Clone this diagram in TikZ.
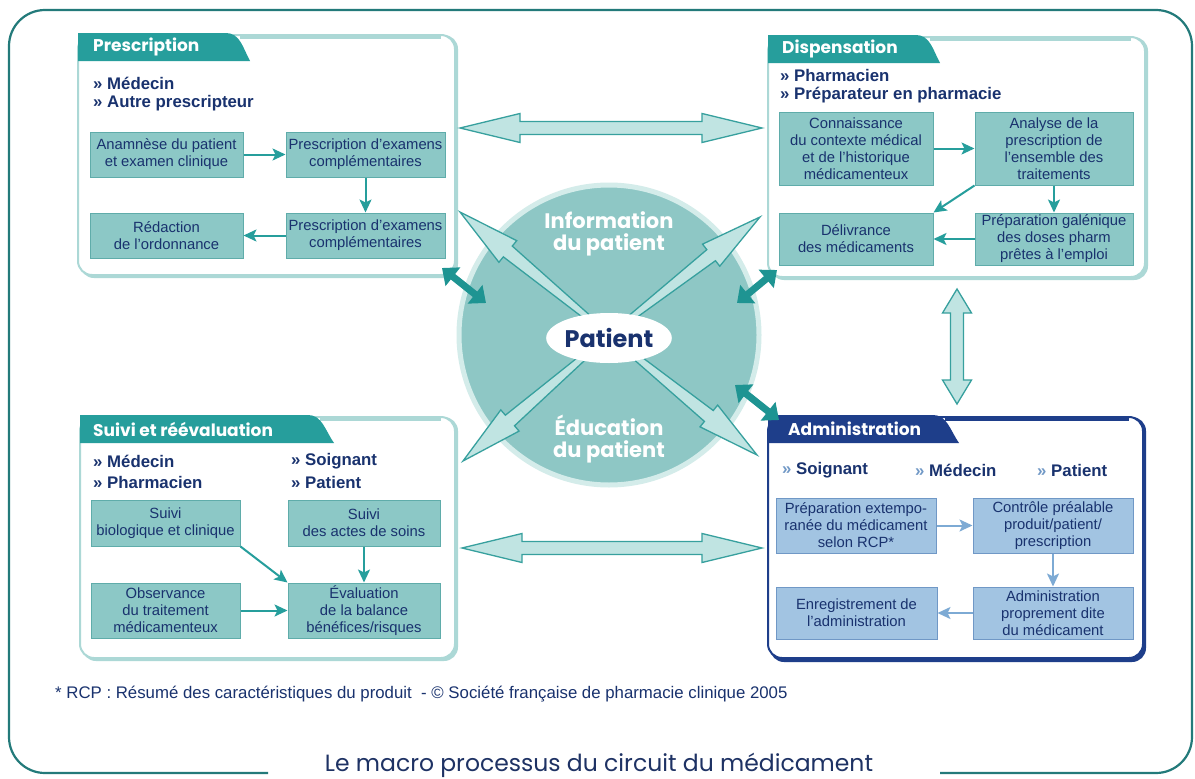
\documentclass[tikz,border=0pt]{standalone}
\usepackage{fontspec}
\setmainfont{Liberation Sans}
\newfontfamily\pop{Poppins}
\usetikzlibrary{calc,arrows.meta,shapes.geometric}

\definecolor{tealdark}{RGB}{38,158,156}
\definecolor{boxfill}{RGB}{140,200,198}
\definecolor{boxline}{RGB}{95,172,170}
\definecolor{panelline}{RGB}{172,216,214}
\definecolor{navy}{RGB}{25,50,110}
\definecolor{admnavy}{RGB}{30,62,138}
\definecolor{admfill}{RGB}{162,196,226}
\definecolor{admline}{RGB}{112,152,198}
\definecolor{admarrow}{RGB}{125,170,212}
\definecolor{circfill}{RGB}{142,199,197}
\definecolor{circring}{RGB}{212,236,234}
\definecolor{openfill}{RGB}{192,228,226}
\definecolor{openline}{RGB}{55,160,158}
\definecolor{bigarrcol}{RGB}{30,148,146}
\definecolor{frameline}{RGB}{35,122,122}
\definecolor{titlecol}{RGB}{30,50,100}

\tikzset{
 pbox/.style={draw=boxline, fill=boxfill, line width=1pt, text=navy, font=\fontsize{14.8}{17}\selectfont, align=center, inner sep=0pt},
 abox/.style={pbox, draw=admline, fill=admfill},
 panel/.style={draw=panelline, line width=2pt, fill=white, rounded corners=14pt, inner sep=0pt},
 apanel/.style={panel, draw=admnavy},
 tabtext/.style={font=\pop\bfseries\fontsize{17}{20}\selectfont, text=white, anchor=west, inner sep=0pt},
 role/.style={font=\bfseries\fontsize{16.8}{19}\selectfont, text=navy, anchor=west, inner sep=0pt},
 flow/.style={draw=tealdark, line width=2pt, -{Stealth[length=13pt,width=12pt,inset=3pt]}},
 aflow/.style={flow, draw=admarrow},
 openarr/.style={fill=openfill, draw=openline, line width=1.3pt, line join=miter},
 bigarr/.style={draw=bigarrcol, line width=7pt, {Triangle[length=14pt,width=23pt]}-{Triangle[length=14pt,width=23pt]}},
 centertext/.style={font=\pop\bfseries\fontsize{21}{22}\selectfont, text=white, align=center, inner sep=0pt},
}

\newcommand\halfarr[2]{%
 \filldraw[openarr] ($(#1)!2pt!90:(#2)$) -- ($(#2)!62pt!(#1)!7pt!-90:(#1)$) -- ($(#2)!62pt!(#1)!14pt!-90:(#1)$) -- (#2) -- ($(#2)!62pt!(#1)!14pt!90:(#1)$) -- ($(#2)!62pt!(#1)!7pt!90:(#1)$) -- ($(#1)!2pt!-90:(#2)$) -- cycle;}

\newcommand\dblarr[3]{%
 \filldraw[openarr] (#1) -- ($(#1)!#3!(#2)!14.5pt!90:(#2)$) -- ($(#1)!#3!(#2)!6.5pt!90:(#2)$) -- ($(#2)!#3!(#1)!6.5pt!-90:(#1)$) -- ($(#2)!#3!(#1)!14.5pt!-90:(#1)$) -- (#2) -- ($(#2)!#3!(#1)!14.5pt!90:(#1)$) -- ($(#2)!#3!(#1)!6.5pt!90:(#1)$) -- ($(#1)!#3!(#2)!6.5pt!-90:(#2)$) -- ($(#1)!#3!(#2)!14.5pt!-90:(#2)$) -- cycle;}

\begin{document}
\begin{tikzpicture}[x=1pt,y=-1pt]
\useasboundingbox (0,0) rectangle (1195,779);
\fill[white] (0,0) rectangle (1195,779);

% outer frame
\draw[frameline, line width=2.2pt, rounded corners=36pt] (268,773) -- (9,773) -- (9,10) -- (1192,10) -- (1192,773) -- (940,773);
\node[font=\pop\fontsize{23.5}{26}\selectfont, text=titlecol, inner sep=0pt] (title) at (599,765) {Le macro processus du circuit du médicament};

% ---------- Prescription panel
\fill[panelline, rounded corners=14pt] (80,35) rectangle (458,278);
\node[panel, minimum width=377pt, minimum height=240pt] (pr) at (266.5,155) {};
\draw[panelline, line width=4pt] (240,37) -- (441,37);
\fill[tealdark] (78,61) -- (78,33) -- (226,33) .. controls (240,33) and (243,48) .. (250,61) -- cycle;
\node[tabtext] (prt) at (93,47) {Prescription};
\node[role] (pr1) at (93,83) {» Médecin};
\node[role] (pr2) at (93,103) {» Autre prescripteur};
\node[pbox, minimum width=153pt, minimum height=45pt] (p1) at (166.5,154.5) {Anamnèse du patient\\et examen clinique};
\node[pbox, minimum width=159pt, minimum height=45pt] (p2) at (365.5,154.5) {Prescription d’examens\\complémentaires};
\node[pbox, minimum width=159pt, minimum height=45pt] (p3) at (365.5,235.5) {Prescription d’examens\\complémentaires};
\node[pbox, minimum width=153pt, minimum height=45pt] (p4) at (166.5,235.5) {Rédaction\\de l’ordonnance};
\draw[flow] (p1) -- (p2);
\draw[flow] (p2) -- (p3);
\draw[flow] (p3) -- (p4);

% ---------- Dispensation panel
\fill[panelline, rounded corners=14pt] (770,37) rectangle (1148,280);
\node[panel, minimum width=377pt, minimum height=240pt] (di) at (956.5,157) {};
\draw[panelline, line width=4pt] (930,39) -- (1131,39);
\fill[tealdark] (768,63) -- (768,35) -- (916,35) .. controls (930,35) and (933,50) .. (940,63) -- cycle;
\node[tabtext] (dit) at (782,49) {Dispensation};
\node[role] (di1) at (780,75) {» Pharmacien};
\node[role] (di2) at (780,95) {» Préparateur en pharmacie};
\node[pbox, minimum width=154pt, minimum height=73pt] (d1) at (856,148.5) {Connaissance\\du contexte médical\\et de l’historique\\médicamenteux};
\node[pbox, minimum width=158pt, minimum height=73pt] (d2) at (1054,148.5) {Analyse de la\\prescription de\\l’ensemble des\\traitements};
\node[pbox, minimum width=158pt, minimum height=52pt] (d3) at (1054,239) {Préparation galénique\\des doses pharm\\prêtes à l’emploi};
\node[pbox, minimum width=154pt, minimum height=52pt] (d4) at (856,239) {Délivrance\\des médicaments};
\draw[flow] (d1) -- (d2);
\draw[flow] (d2) -- (d3);
\draw[flow] (d3) -- (d4);
\draw[flow] (d2.south west) -- (d4.north east);

% ---------- Suivi panel
\fill[panelline, rounded corners=14pt] (82,417) rectangle (458,661);
\node[panel, minimum width=375pt, minimum height=241pt] (su) at (267.5,537.5) {};
\draw[panelline, line width=4pt] (320,419) -- (441,419);
\fill[tealdark] (80,443) -- (80,415) -- (308,415) .. controls (322,415) and (325,430) .. (334,443) -- cycle;
\node[tabtext] (sut) at (93,429) {Suivi et réévaluation};
\node[role] (su1) at (93,461) {» Médecin};
\node[role] (su2) at (93,482) {» Pharmacien};
\node[role] (su3) at (291,461) {» Soignant};
\node[role] (su4) at (291,482) {» Patient};
\node[pbox, minimum width=149pt, minimum height=46pt] (s1) at (165.5,523) {Suivi\\biologique et clinique};
\node[pbox, minimum width=152pt, minimum height=46pt] (s2) at (364,523) {Suivi\\des actes de soins};
\node[pbox, minimum width=149pt, minimum height=55pt] (s3) at (165.5,610.5) {Observance\\du traitement\\médicamenteux};
\node[pbox, minimum width=152pt, minimum height=55pt] (s4) at (364,610.5) {Évaluation\\de la balance\\bénéfices/risques};
\draw[flow] (s1.south east) -- (s4.north west);
\draw[flow] (s2) -- (s4);
\draw[flow] (s3) -- (s4);

% ---------- Administration panel
\fill[admnavy, rounded corners=14pt] (770,417) rectangle (1146,662);
\node[apanel, minimum width=375pt, minimum height=241pt] (ad) at (955.5,537.5) {};
\draw[admnavy, line width=4pt] (945,419) -- (1129,419);
\fill[admnavy] (768,443) -- (768,415) -- (933,415) .. controls (947,415) and (950,430) .. (959,443) -- cycle;
\node[tabtext] (adt) at (788,429) {Administration};
\node[role] (ad1) at (782,470) {\textcolor{admline}{»} Soignant};
\node[role] (ad2) at (915,470) {\textcolor{admline}{»} Médecin};
\node[role] (ad3) at (1037,470) {\textcolor{admline}{»} Patient};
\node[abox, minimum width=160pt, minimum height=55pt] (a1) at (856,525.5) {Préparation extempo-\\ranée du médicament\\selon RCP*};
\node[abox, minimum width=160pt, minimum height=55pt] (a2) at (1053,525.5) {Contrôle préalable\\produit/patient/\\prescription};
\node[abox, minimum width=160pt, minimum height=52pt] (a3) at (1053,613) {Administration\\proprement dite\\du médicament};
\node[abox, minimum width=161pt, minimum height=52pt] (a4) at (856.5,613) {Enregistrement de\\l’administration};
\draw[aflow] (a1) -- (a2);
\draw[aflow] (a2) -- (a3);
\draw[aflow] (a3) -- (a4);

% ---------- central circle
\node[circle, fill=circfill, draw=circring, line width=5pt, minimum size=300pt, inner sep=0pt] (circ) at (609,335) {};
\coordinate (xc) at (609,335);
\coordinate (t1) at (460,212);
\coordinate (t2) at (757,455);
\coordinate (t3) at (760,217);
\coordinate (t4) at (463,461);
\halfarr{xc}{t1}
\halfarr{xc}{t2}
\halfarr{xc}{t3}
\halfarr{xc}{t4}
\node[ellipse, fill=white, minimum width=122pt, minimum height=50pt, inner sep=0pt, text=navy, font=\pop\bfseries\fontsize{24}{28}\selectfont] (pat) at (609,338) {Patient};
\node[centertext] (info) at (609,234) {Information\\du patient};
\node[centertext] (edu) at (609,439) {Éducation\\du patient};

% ---------- open double arrows between panels
\coordinate (h1a) at (460,128);
\coordinate (h1b) at (762,128);
\coordinate (h2a) at (462,548);
\coordinate (h2b) at (762,548);
\coordinate (v1a) at (957,289);
\coordinate (v1b) at (957,404);
\dblarr{h1a}{h1b}{60pt}
\dblarr{h2a}{h2b}{60pt}
\dblarr{v1a}{v1b}{24pt}

% ---------- thick arrows
\coordinate (k1a) at (442,268);
\coordinate (k1b) at (486,303);
\coordinate (k2a) at (777,270);
\coordinate (k2b) at (737,303);
\coordinate (k3a) at (735,385);
\coordinate (k3b) at (779,420);
\draw[bigarr] (k1a) -- (k1b);
\draw[bigarr] (k2a) -- (k2b);
\draw[bigarr] (k3a) -- (k3b);

% footnote
\node[anchor=west, font=\fontsize{16.8}{19}\selectfont, text=navy, inner sep=0pt] (fn) at (55,694) {* RCP : Résumé des caractéristiques du produit \ - © Société française de pharmacie clinique 2005};
\end{tikzpicture}
\end{document}
